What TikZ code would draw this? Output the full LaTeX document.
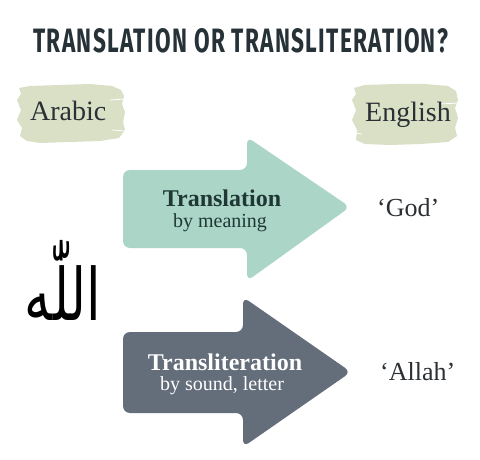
\documentclass[tikz,border=0pt]{standalone}
\usepackage{fontspec}
\setmainfont{Liberation Serif}
\newfontfamily\titlefont[LetterSpace=6]{Fira Sans}
\newfontfamily\arabicfont[Script=Arabic]{DejaVu Sans}
\TeXXeTstate=1
\definecolor{titlec}{HTML}{263238}
\definecolor{brushc}{HTML}{D9E0C6}
\definecolor{tealc}{HTML}{AAD5C7}
\definecolor{slatec}{HTML}{646D7A}
\definecolor{inkc}{HTML}{2B3034}
\definecolor{tealink}{HTML}{1F3835}
\tikzset{
  lbl/.style={inner sep=0pt, text=inkc, font=\fontsize{28}{30}\selectfont},
  arrowtext/.style={inner sep=0pt, align=center},
  brush/.style={fill=brushc},
}
\begin{document}
\begin{tikzpicture}[x=1pt,y=-1pt]
\useasboundingbox (0,0) rectangle (480,460);
\fill[white] (0,0) rectangle (480,460);
% title
\node[inner sep=0pt, anchor=north west, text=titlec, font=\fontsize{34}{36}\selectfont] (title) at (33,28)
  {\resizebox{415pt}{24pt}{\titlefont\bfseries TRANSLATION OR TRANSLITERATION?}};
% brush backgrounds
\fill[brush] (19,88) -- (30,86) -- (60,85) -- (90,84) -- (112,86) -- (121,90) -- (124,96)
  -- (122,104) -- (125,112) -- (123,122) -- (125,130) -- (119,138) -- (100,141) -- (70,142)
  -- (40,143) -- (27,141) -- (20,136) -- (22,128) -- (17,120) -- (21,110) -- (17,100) -- (21,94) -- cycle;
\fill[brush] (354,88) -- (365,85) -- (395,84) -- (425,84) -- (448,86) -- (456,91) -- (458,100)
  -- (455,108) -- (458,118) -- (455,128) -- (457,136) -- (448,142) -- (420,144) -- (390,145)
  -- (365,144) -- (356,140) -- (357,130) -- (352,120) -- (356,110) -- (352,100) -- (356,94) -- cycle;
\draw[white, line width=0.8pt] (110,100) -- (125,99);
\draw[white, line width=0.8pt] (112,130) -- (125,131);
\draw[white, line width=0.8pt] (440,104) -- (458,103);
\draw[white, line width=0.8pt] (352,133) -- (362,134);
\node[lbl, anchor=base west] (arabic) at (30,121) {Arabic};
\node[lbl, anchor=base west] (english) at (365,122) {English};
% arrows
\fill[tealc, rounded corners=7pt] (123,170) -- (247,170) -- (247,137) -- (350,207)
  -- (247,281) -- (247,248) -- (123,248) -- cycle;
\fill[slatec, rounded corners=7pt] (123,332) -- (243,332) -- (243,297) -- (351,372)
  -- (243,447) -- (243,413) -- (123,413) -- cycle;
\node[arrowtext, anchor=base, text=tealink, font=\fontsize{24}{26}\selectfont\bfseries] (tr) at (222,207) {Translation};
\node[arrowtext, anchor=base, text=tealink, font=\fontsize{20}{22}\selectfont] (trsub) at (220,227) {by meaning};
\node[arrowtext, anchor=base, text=white, font=\fontsize{24}{26}\selectfont\bfseries] (tl) at (225,370) {Transliteration};
\node[arrowtext, anchor=base, text=white, font=\fontsize{20}{22}\selectfont] (tlsub) at (222,390) {by sound, letter};
% results
\node[lbl, anchor=base west, font=\fontsize{26}{28}\selectfont] (god) at (377,216) {‘God’};
\node[lbl, anchor=base west, font=\fontsize{26}{28}\selectfont] (allah) at (380,380) {‘Allah’};
% calligraphy
\node[inner sep=0pt, anchor=north, font=\fontsize{60}{62}\selectfont] (allahar) at (63,240)
  {\resizebox*{76pt}{80pt}{\arabicfont\beginR اللّٰه\endR}};
\end{tikzpicture}
\end{document}
